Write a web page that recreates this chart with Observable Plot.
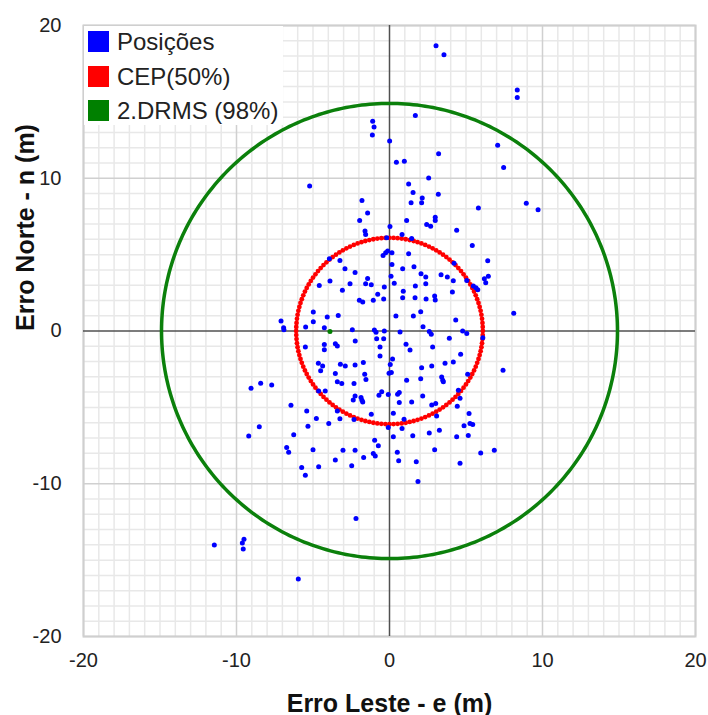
<!DOCTYPE html>
<html><head><meta charset="utf-8">
<script src="https://cdn.jsdelivr.net/npm/d3@7"></script>
<script src="https://cdn.jsdelivr.net/npm/@observablehq/plot@0.6"></script>
<style>
body{margin:0;background:#fff;}
#chart svg{display:block;font-family:"Liberation Sans",Arial,sans-serif;background:#fff;}
</style></head><body><div id="chart"></div>
<script>
// East errors (m) of the positions
const posE = [
3.04,3.56,8.35,8.35,
1.69,3.21,0.45,0.97,2.56,1.25,1.54,3.19,2.14,1.41,2.10,5.81,1.12,2.99,2.99,2.43,2.69,4.39,0.82,1.45,
-1.10,-1.01,-1.12,0.01,-5.22,-1.80,-1.43,-1.95,-1.60,-1.56,0.03,-0.18,
7.07,7.46,8.94,9.71,6.42,6.46,6.20,6.29,8.12,6.10,
5.41,0.16,1.25,0.16,0.86,1.60,2.06,2.37,3.37,3.78,4.22,4.17,5.05,5.48,5.65,5.77,0.10,0.31,1.69,2.37,4.11,0.90,0.86,1.67,2.39,2.95,2.99,2.04,0.42,1.56,4.33,2.19,0.69,2.60,2.73,4.78,5.05,3.91,1.08,1.34,2.82,
-0.42,-0.25,-0.12,-3.93,-3.24,-2.91,-2.25,-1.43,-3.89,-4.59,-2.58,-1.56,-1.19,-0.34,-3.08,-0.77,-1.97,-1.75,-1.06,-0.38,-4.98,-3.35,-4.07,-4.98,-7.09,-6.92,-6.90,-5.48,-4.26,-2.43,-0.99,-0.88,-0.34,-5.50,-4.26,-4.26,-3.54,-3.41,-2.24,-0.84,-0.38,-0.62,
-0.62,0.20,0.05,-0.03,0.12,-4.65,-4.37,-4.50,-3.21,-2.89,-2.25,-1.71,-3.54,-3.41,-3.12,-2.32,-1.62,-1.54,-7.70,-8.42,-9.05,-4.63,-4.20,-2.25,-2.37,-1.86,-1.80,-1.75,-0.69,-0.51,-0.08,-6.44,-5.41,-4.78,-3.41,-3.24,-3.97,-2.32,-1.19,-0.08,-8.51,-9.20,-5.33,-6.26,-0.97,-0.73,-6.72,-6.59,-5.00,-3.04,-2.25,-1.06,-0.93,-1.69,-3.54,-5.74,-5.50,-4.63,-2.47,
4.65,3.63,4.17,2.10,2.76,7.42,5.11,1.12,2.04,3.41,3.48,3.52,0.53,0.64,2.17,4.50,4.61,0.64,1.45,2.76,3.02,4.43,0.25,5.20,3.08,0.95,0.82,4.87,5.26,5.44,3.26,2.60,0.25,1.52,4.39,5.15,0.51,0.60,2.95,1.75,4.61,5.96,6.85,1.86,
-11.45,-9.51,-9.62,-9.56,-2.19,-5.96
];
// North errors (m) of the positions
const posN = [
18.67,18.08,15.77,15.29,
14.10,11.61,11.05,11.11,10.02,9.63,9.06,8.95,8.71,8.39,8.39,8.06,7.23,7.45,7.23,6.97,6.86,6.60,6.32,6.06,
13.73,13.35,12.83,12.44,9.50,8.54,7.73,7.23,6.54,6.32,6.84,6.10,
12.16,10.70,8.37,7.93,4.60,3.59,3.42,3.16,1.16,-0.45,
5.60,5.12,5.05,4.36,4.07,4.20,3.75,3.53,3.68,3.53,4.44,3.29,3.31,2.94,2.83,2.70,3.59,3.12,2.94,3.09,2.55,2.61,2.18,2.18,2.09,2.29,2.03,1.26,0.98,0.98,0.72,0.28,-0.07,-0.04,-0.22,0.00,-0.17,-0.48,-0.87,-1.24,-1.05,
4.94,5.12,5.23,4.73,4.62,4.07,3.83,3.44,3.27,2.98,3.09,3.09,3.03,2.88,2.66,2.40,2.01,1.90,2.01,2.09,1.24,1.02,0.92,0.61,0.65,0.22,0.09,0.26,0.22,0.09,0.07,-0.09,0.00,-1.05,-0.89,-1.22,-0.83,-0.98,-0.65,-0.50,-0.50,-1.05,
-1.63,-1.84,-2.20,-2.76,-2.72,-2.11,-2.29,-2.61,-2.18,-2.29,-2.22,-2.07,-2.79,-3.33,-3.44,-3.44,-2.83,-3.18,-3.53,-3.42,-3.75,-3.92,-3.92,-4.25,-4.51,-4.36,-4.53,-4.64,-4.20,-3.97,-4.16,-4.86,-5.23,-5.73,-5.23,-5.75,-6.06,-5.80,-5.45,-6.32,-6.27,-6.88,-6.23,-6.80,-7.15,-7.52,-7.63,-7.93,-7.78,-7.80,-7.80,-8.02,-8.19,-8.28,-8.45,-8.93,-9.45,-8.89,-8.82,
-1.52,-2.11,-2.03,-2.40,-2.29,-2.57,-2.83,-3.22,-3.12,-3.01,-3.22,-3.33,-4.14,-4.03,-4.25,-3.88,-4.40,-4.68,-4.64,-4.84,-4.75,-4.92,-5.38,-5.40,-5.56,-5.77,-6.38,-6.21,-6.06,-6.12,-6.49,-6.67,-6.93,-6.86,-6.93,-6.84,-7.93,-8.50,-7.78,-8.56,-8.65,-7.99,-7.80,-9.85,
-14.01,-13.64,-13.88,-14.27,-12.27,-16.23
];
const meanE = [-3.89];
const meanN = [-0.04];
const cepRadius = 6.1;
const drmsRadius = 14.9;
const xTicks = [-20, -10, 0, 10, 20];
const yTicks = [-20, -10, 0, 10, 20];
const legendLabels = ["Posições", "CEP(50%)", "2.DRMS (98%)"];
const legendColors = ["#0000ff", "#ff0000", "#008000"];
const xLabel = "Erro Leste - e (m)";
const yLabel = "Erro Norte - n (m)";

const positions = posE.map((e, i) => ({e, n: posN[i]}));
const mean = meanE.map((e, i) => ({e, n: meanN[i]}));
function circle(r, n, closed) {
  const m = closed ? n + 1 : n;
  return d3.range(m).map(i => { const a = 2 * Math.PI * i / n; return {e: r * Math.cos(a), n: r * Math.sin(a)}; });
}
const minor = d3.range(-20, 21, 1).filter(v => v % 10 !== 0);
const major = [-20, -10, 10, 20];
const fmt = d => String(d);

const W = 708, H = 715, ML = 83, MR = 13, MT = 25, MB = 79;
const chart = Plot.plot({
  width: W, height: H,
  marginLeft: ML, marginRight: MR, marginTop: MT, marginBottom: MB,
  style: {fontFamily: "'Liberation Sans', Arial, sans-serif", background: "#fff"},
  x: {domain: [-20, 20]},
  y: {domain: [-20, 20]},
  marks: [
    Plot.gridX(minor, {stroke: "#e8e8e8", strokeOpacity: 1, strokeWidth: 1.5}),
    Plot.gridY(minor, {stroke: "#e8e8e8", strokeOpacity: 1, strokeWidth: 1.5}),
    Plot.gridX(major, {stroke: "#d0d0d0", strokeOpacity: 1, strokeWidth: 1.5}),
    Plot.gridY(major, {stroke: "#d0d0d0", strokeOpacity: 1, strokeWidth: 1.5}),
    Plot.frame({stroke: "#cfcfcf", strokeWidth: 2}),
    Plot.ruleX([0], {stroke: "#505050", strokeWidth: 1.5}),
    Plot.ruleY([0], {stroke: "#505050", strokeWidth: 1.5}),
    Plot.line(circle(drmsRadius, 360, true), {x: "e", y: "n", stroke: "#0b800b", strokeWidth: 3.5}),
    Plot.dot(circle(cepRadius, 144, false), {x: "e", y: "n", r: 2.4, fill: "#ff0000"}),
    Plot.dot(positions, {x: "e", y: "n", r: 2.5, fill: "#0000ff"}),
    Plot.dot(mean, {x: "e", y: "n", r: 2.5, fill: "#008000"}),
    Plot.axisX(xTicks, {tickSize: 0, tickPadding: 16, fontSize: 20, color: "#222", label: null, tickFormat: fmt}),
    Plot.axisY(yTicks, {tickSize: 0, tickPadding: 22, fontSize: 20, color: "#222", label: null, tickFormat: fmt}),
    Plot.text([xLabel], {text: d => d, frameAnchor: "bottom", dy: 67, lineAnchor: "middle", fontSize: 25, fontWeight: "bold", fill: "#111"}),
    Plot.text([yLabel], {text: d => d, frameAnchor: "left", dx: -58, rotate: -90, lineAnchor: "middle", fontSize: 25, fontWeight: "bold", fill: "#111"})
  ]
});
document.getElementById("chart").appendChild(chart);

// Legend inside the plot area (top-left)
const svg = d3.select(chart);
const lg = svg.append("g").attr("class", "legend").attr("text-anchor", "start");
lg.append("rect").attr("x", ML + 1).attr("y", MT + 1).attr("width", 199).attr("height", 99).attr("fill", "#fff");
const rowY = [31, 66, 100];
legendLabels.forEach((lab, i) => {
  lg.append("rect").attr("x", 88).attr("y", rowY[i]).attr("width", 21).attr("height", 21).attr("fill", legendColors[i]);
  lg.append("text").attr("x", 117).attr("y", rowY[i] + 19).attr("font-size", 24).attr("fill", "#222")
    .attr("text-anchor", "start")
    .attr("font-family", "'Liberation Sans', Arial, sans-serif").text(lab);
});
</script></body></html>
